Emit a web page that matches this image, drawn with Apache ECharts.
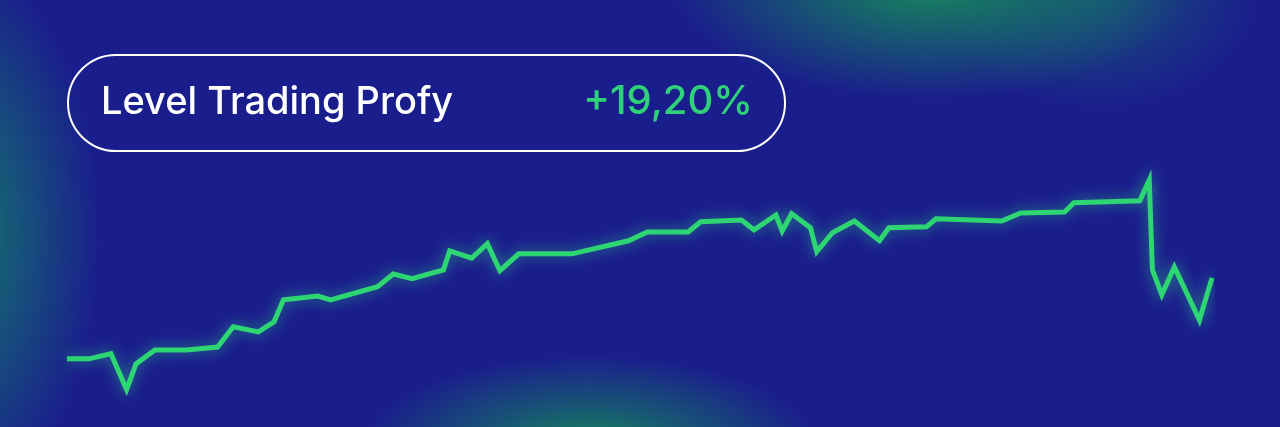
<!DOCTYPE html>
<html>
<head>
<meta charset="utf-8">
<script src="https://cdn.jsdelivr.net/npm/echarts@6/dist/echarts.min.js"></script>
<style>
html,body{margin:0;padding:0;width:1280px;height:427px;overflow:hidden;}
body{
  background:
    radial-gradient(ellipse 260px 120px at 930px -20px, rgba(22,140,88,1) 0%, rgba(22,130,95,0.6) 45%, rgba(22,120,110,0) 100%),
    radial-gradient(ellipse 150px 280px at -50px 235px, rgba(20,125,100,1) 0%, rgba(20,120,110,0.6) 45%, rgba(20,110,120,0) 100%),
    radial-gradient(ellipse 230px 95px at 590px 450px, rgba(22,135,88,1) 0%, rgba(22,125,100,0.6) 45%, rgba(22,115,110,0) 100%),
    radial-gradient(ellipse 160px 120px at 1100px -10px, rgba(22,110,110,0.6), rgba(22,110,110,0) 100%),
    #1a1e8c;
}
#chart{width:1280px;height:427px;}
</style>
</head>
<body>
<div id="chart"></div>
<script>
// Days since start (x) and cumulative return in % (y)
const days = [0,7,14,19,22,28,38,48,53,61,66,69,80,84,99,104,110,120,122,129,134,138,144,161,179,185,198,202,215,219,226,228,231,237,239,244,251,259,262,274,277,298,304,318,321,342,345,346,349,353,361,365];
const returns = [0,0,1.2,-7.3,-1.2,2.1,2.1,2.8,7.6,6.4,8.8,14.0,14.9,14.0,17.1,20.1,19.0,21.1,25.6,23.9,27.3,20.9,24.9,24.9,28.0,30.1,30.1,32.5,32.9,30.6,34.1,30.3,34.4,31.1,25.4,29.9,32.7,28.0,31.1,31.3,33.2,32.7,34.6,34.8,37.0,37.5,42.4,21.1,15.2,21.8,9.2,19.2];
const title = "Level Trading Profy";
const resultLabel = "+19,20%";

const seriesData = days.map((d, i) => [d, returns[i]]);

const chart = echarts.init(document.getElementById('chart'), null, {renderer: 'canvas'});
chart.setOption({
  backgroundColor: 'transparent',
  animation: false,
  grid: {left: 67, right: 68, top: 148, bottom: 26},
  xAxis: {type: 'value', min: 0, max: 365, show: false},
  yAxis: {type: 'value', min: -10, max: 50, show: false},
  graphic: [
    {
      type: 'rect',
      shape: {x: 68, y: 55, width: 717, height: 96, r: 48},
      style: {fill: 'rgba(0,0,0,0)', stroke: '#ffffff', lineWidth: 2}
    },
    {
      type: 'text',
      left: 101, top: 84,
      style: {text: title, fill: '#ffffff', font: '500 38px Inter, "Noto Sans", sans-serif'}
    },
    {
      type: 'text',
      right: 1280 - 753, top: 82,
      style: {text: resultLabel, fill: '#2fd17a', font: '500 40px Inter, "Noto Sans", sans-serif', textAlign: 'right'}
    }
  ],
  series: [{
    type: 'line',
    data: seriesData,
    showSymbol: false,
    smooth: false,
    lineStyle: {
      color: '#2ed573',
      width: 5,
      join: 'miter',
      shadowColor: 'rgba(60,240,140,0.55)',
      shadowBlur: 14
    }
  }]
});
</script>
</body>
</html>
